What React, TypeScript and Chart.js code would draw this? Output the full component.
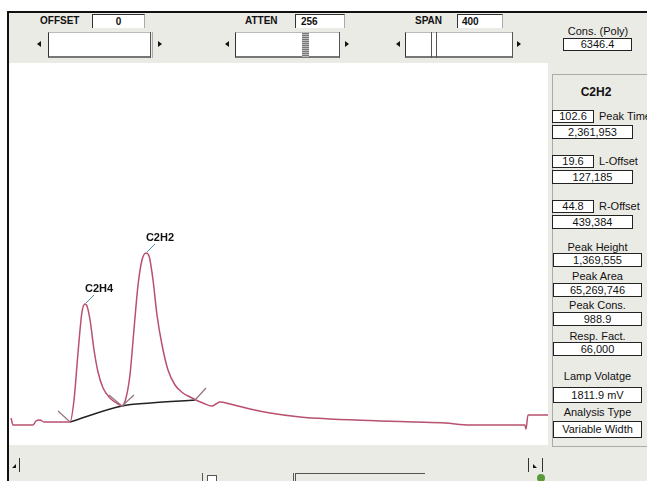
import React, { useEffect, useRef } from "react";
import { Chart, registerables } from "chart.js";
Chart.register(...registerables);

// Chromatogram trace (time in s, detector signal in counts)
const traceTime = [0.8, 2.3, 17.4, 19.6, 22.6, 25.6, 45.3, 48.3, 51.3, 54.3, 56.6, 58.1, 60.4, 63.4, 66.4, 70.2, 75.4, 81.5, 84.5, 87.5, 90.5, 93.5, 96.6, 99.6, 102.6, 104.9, 107.9, 110.9, 114.7, 119.2, 124.5, 130.5, 135.8, 140.3, 145.6, 152.4, 155.4, 158.4, 166.0, 181.1, 196.2, 218.8, 241.4, 279.1, 305.5, 328.2, 347.0, 388.5, 389.3, 390.8, 405.9];
const traceSignal = [27, 20, 20, 24, 25, 23, 23, 45, 92, 133, 141, 139, 125, 95, 73, 57, 47, 41, 39, 47, 70, 115, 160, 185, 192, 189, 165, 130, 100, 75, 60, 52, 48, 45, 42, 39, 41, 43, 41, 36, 32, 28, 26, 24, 23, 22, 20, 20, 16, 30, 30];

// Integration baseline
const baselineTime = [45.3, 84.5, 106.0, 139.6];
const baselineSignal = [23, 39, 42, 45];

// Peaks
const peakNames = ["C2H4", "C2H2"];
const peakTimes = [56.6, 102.6];
const peakSignals = [141, 192];

// Integration cut marks
const cutTimes = [45.3, 84.5, 139.6];
const cutSignals = [23, 39, 45];

// Result panel values
const panelCompound = "C2H2";
const peakTimeVal = "102.6";
const peakTimeArea = "2,361,953";
const lOffsetVal = "19.6";
const lOffsetArea = "127,185";
const rOffsetVal = "44.8";
const rOffsetArea = "439,384";
const peakHeight = "1,369,555";
const peakArea = "65,269,746";
const peakCons = "988.9";
const respFact = "66,000";
const lampVoltage = "1811.9 mV";
const analysisType = "Variable Width";
const consPoly = "6346.4";
const offsetVal = "0";
const attenVal = "256";
const spanVal = "400";

const X_MAX = 405.9;
const Y_MAX = 382;

const annotPlugin = {
  id: "annot",
  afterDatasetsDraw(chart: any) {
    const { ctx, scales } = chart;
    const x = scales.x, y = scales.y;
    ctx.save();
    ctx.strokeStyle = "#957286";
    ctx.lineWidth = 1.2;
    const marks = [[[-12, -11]], [[-13, -11], [12, -11]], [[11, -12]]];
    cutTimes.forEach((t, i) => {
      const px = x.getPixelForValue(t), py = y.getPixelForValue(cutSignals[i]);
      marks[i].forEach(([dx, dy]) => {
        ctx.beginPath();
        ctx.moveTo(px, py);
        ctx.lineTo(px + dx, py + dy);
        ctx.stroke();
      });
    });
    ctx.font = 'bold 11px "Liberation Sans", Arial, sans-serif';
    ctx.textAlign = "center";
    ctx.textBaseline = "alphabetic";
    peakNames.forEach((n, i) => {
      const px = x.getPixelForValue(peakTimes[i]), py = y.getPixelForValue(peakSignals[i]);
      ctx.strokeStyle = "#4a8fa6";
      ctx.lineWidth = 1;
      ctx.beginPath();
      ctx.moveTo(px + 1, py - 1);
      ctx.lineTo(px + 9, py - 9);
      ctx.stroke();
      ctx.fillStyle = "#111";
      ctx.fillText(n, px + 14, py - 12);
    });
    ctx.restore();
  },
};

const abs = (l: number, t: number, w?: number, h?: number): React.CSSProperties => ({
  position: "absolute", left: l, top: t, width: w, height: h, boxSizing: "border-box",
});

function Txt({ l, t, w, text, bold, size, align }: any) {
  return (
    <div style={{ ...abs(l, t, w), fontSize: size || 11, fontWeight: bold ? "bold" : "normal", textAlign: align || "left", whiteSpace: "nowrap", lineHeight: "12px", color: "#111" }}>{text}</div>
  );
}

function Box({ l, t, w, h, text }: any) {
  return (
    <div style={{ ...abs(l, t, w, h), background: "#fff", border: "1px solid #222", fontSize: 11, textAlign: "center", lineHeight: (h - 2) + "px", color: "#111", whiteSpace: "nowrap", overflow: "hidden" }}>{text}</div>
  );
}

function TriL({ l, t }: any) {
  return <div style={{ ...abs(l, t), width: 0, height: 0, borderTop: "3px solid transparent", borderBottom: "3px solid transparent", borderRight: "4px solid #111" }} />;
}
function TriR({ l, t }: any) {
  return <div style={{ ...abs(l, t), width: 0, height: 0, borderTop: "3px solid transparent", borderBottom: "3px solid transparent", borderLeft: "4px solid #111" }} />;
}

function Track({ l, w }: any) {
  return <div style={{ ...abs(l, 32, w, 26), background: "#fff", borderLeft: "1px solid #333", borderTop: "1px solid #bbb", borderBottom: "2px solid #777" }} />;
}

function VLine({ l, t, h, c }: any) {
  return <div style={{ ...abs(l, t, 1, h), background: c || "#444" }} />;
}

function LabelBox({ l, w, text, pad }: any) {
  return (
    <div style={{ ...abs(l, 14, w, 14), background: "#fff", borderTop: "1px solid #333", borderLeft: "1px solid #333", borderRight: "1px solid #aaa", fontSize: 10, fontWeight: "bold", lineHeight: "13px", paddingLeft: pad, textAlign: pad ? "left" : "center", color: "#111" }}>{text}</div>
  );
}

export default function App() {
  const ref = useRef<HTMLCanvasElement>(null);
  useEffect(() => {
    const chart = new Chart(ref.current!, {
      type: "line",
      data: {
        datasets: [
          {
            data: traceTime.map((t, i) => ({ x: t, y: traceSignal[i] })),
            borderColor: "#b8506e",
            borderWidth: 1.5,
            pointRadius: 0,
            cubicInterpolationMode: "monotone",
            fill: false,
          },
          {
            data: baselineTime.map((t, i) => ({ x: t, y: baselineSignal[i] })),
            borderColor: "#222",
            borderWidth: 1.5,
            pointRadius: 0,
            cubicInterpolationMode: "monotone",
            fill: false,
          },
        ],
      },
      options: {
        animation: false,
        responsive: false,
        maintainAspectRatio: false,
        layout: { padding: 0 },
        scales: {
          x: { type: "linear", min: 0, max: X_MAX, display: false },
          y: { type: "linear", min: 0, max: Y_MAX, display: false },
        },
        plugins: { legend: { display: false }, tooltip: { enabled: false } },
      },
      plugins: [annotPlugin],
    } as any);
    return () => chart.destroy();
  }, []);

  const gray = "#ebebe6";
  return (
    <div style={{ position: "fixed", left: 0, top: 0, width: 647, height: 481, background: "#fff", overflow: "hidden", fontFamily: '"Liberation Sans", Arial, sans-serif' }}>
      {/* frame */}
      <div style={{ ...abs(9, 13, 638, 50), background: gray }} />
      <div style={{ ...abs(548, 13, 99, 468), background: gray }} />
      <div style={{ ...abs(9, 445, 638, 36), background: gray }} />
      <div style={{ ...abs(7, 11, 640, 2), background: "#111" }} />
      <div style={{ ...abs(7, 11, 2, 470), background: "#111" }} />

      <canvas ref={ref} width={538} height={382} style={{ position: "absolute", left: 10, top: 63, width: 538, height: 382 }} />

      {/* OFFSET */}
      <Txt l={40} t={15} text="OFFSET" bold size={10} />
      <LabelBox l={92} w={53} text={offsetVal} />
      <TriL l={37} t={41} />
      <Track l={48} w={102} />
      <VLine l={150} t={32} h={26} c="#555" />
      <VLine l={152} t={32} h={26} c="#aaa" />
      <TriR l={158} t={41} />

      {/* ATTEN */}
      <Txt l={245} t={15} text="ATTEN" bold size={10} />
      <LabelBox l={295} w={50} text={attenVal} pad={5} />
      <TriL l={225} t={41} />
      <Track l={235} w={104} />
      <div style={{ ...abs(302, 32, 7, 26), background: "repeating-linear-gradient(0deg,#777 0px,#777 1px,#bbb 1px,#bbb 2px)" }} />
      <VLine l={339} t={32} h={26} c="#555" />
      <TriR l={345} t={41} />

      {/* SPAN */}
      <Txt l={415} t={15} text="SPAN" bold size={10} />
      <LabelBox l={457} w={46} text={spanVal} pad={4} />
      <TriL l={396} t={41} />
      <Track l={405} w={108} />
      <VLine l={431} t={32} h={26} c="#555" />
      <VLine l={436} t={32} h={26} c="#555" />
      <VLine l={512} t={32} h={26} c="#555" />
      <TriR l={517} t={41} />

      {/* Cons (Poly) */}
      <Txt l={558} t={25} w={80} text="Cons. (Poly)" align="center" />
      <Box l={563} t={38} w={69} h={13} text={consPoly} />

      {/* Result panel */}
      <div style={{ ...abs(552, 74, 100, 373), border: "1px solid #aaa" }} />
      <Txt l={556} t={86} w={80} text={panelCompound} bold size={12} align="center" />

      <Box l={552} t={110} w={42} h={13} text={peakTimeVal} />
      <Txt l={599} t={110} text="Peak Time" />
      <Box l={552} t={125} w={81} h={14} text={peakTimeArea} />

      <Box l={552} t={155} w={42} h={13} text={lOffsetVal} />
      <Txt l={599} t={155} text="L-Offset" />
      <Box l={552} t={170} w={81} h={14} text={lOffsetArea} />

      <Box l={552} t={200} w={42} h={13} text={rOffsetVal} />
      <Txt l={599} t={200} text="R-Offset" />
      <Box l={552} t={215} w={81} h={14} text={rOffsetArea} />

      <Txt l={553} t={241} w={89} text="Peak Height" align="center" />
      <Box l={553} t={253} w={89} h={14} text={peakHeight} />
      <Txt l={553} t={270} w={89} text="Peak Area" align="center" />
      <Box l={553} t={283} w={89} h={14} text={peakArea} />
      <Txt l={553} t={299} w={89} text="Peak Cons." align="center" />
      <Box l={553} t={312} w={89} h={14} text={peakCons} />
      <Txt l={553} t={330} w={89} text="Resp. Fact." align="center" />
      <Box l={553} t={342} w={89} h={14} text={respFact} />
      <Txt l={553} t={370} w={89} text="Lamp Volatge" align="center" />
      <Box l={553} t={387} w={89} h={16} text={lampVoltage} />
      <Txt l={553} t={406} w={89} text="Analysis Type" align="center" />
      <Box l={553} t={421} w={89} h={17} text={analysisType} />

      {/* bottom controls */}
      <div style={{ ...abs(12, 464, 0, 0), borderLeft: "4px solid transparent", borderBottom: "4px solid #111" }} />
      <VLine l={19} t={458} h={14} c="#333" />
      <VLine l={528} t={458} h={14} c="#333" />
      <div style={{ ...abs(533, 464, 0, 0), borderRight: "4px solid transparent", borderBottom: "4px solid #111" }} />
      <VLine l={542} t={458} h={14} c="#333" />
      <VLine l={202} t={473} h={8} c="#555" />
      <div style={{ ...abs(207, 475, 10, 8), border: "1px solid #555", background: "#fff" }} />
      <VLine l={293} t={473} h={8} c="#555" />
      <VLine l={295} t={473} h={8} c="#555" />
      <div style={{ ...abs(295, 473, 130, 1), background: "#555" }} />
      <div style={{ ...abs(537, 474, 8, 8), borderRadius: 4, background: "#5a9a3a" }} />
    </div>
  );
}
